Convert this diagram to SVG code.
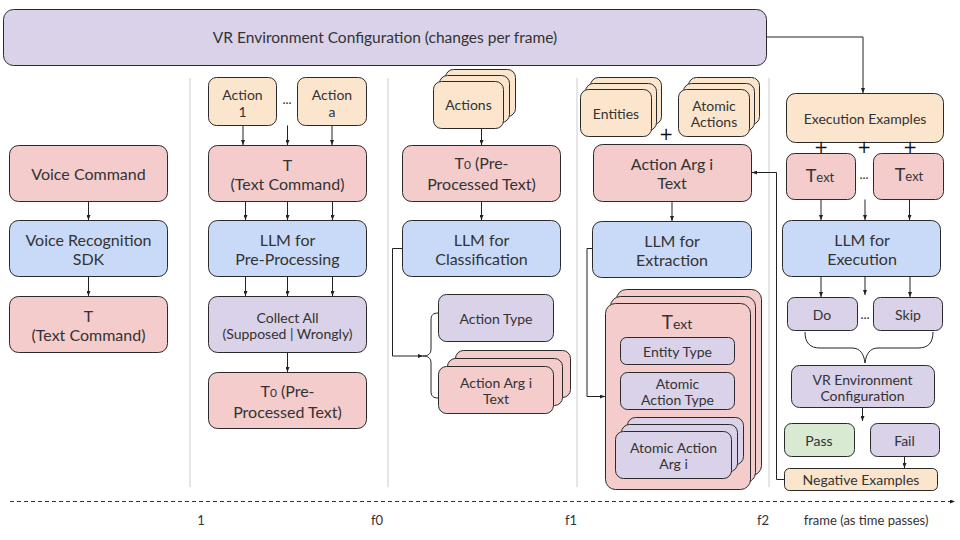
<svg xmlns="http://www.w3.org/2000/svg" width="960" height="540" viewBox="0 0 960 540">
<defs>
<marker id="ah" viewBox="0 0 10 8" refX="10" refY="4" markerWidth="5" markerHeight="4" orient="auto" markerUnits="userSpaceOnUse"><path d="M0,0 L10,4 L0,8 z" fill="#222"/></marker>
<style>
rect{stroke:#2a2a2a;stroke-width:1}
.pk{fill:#f4cccc}.bl{fill:#c9daf8}.pu{fill:#d9d2e9}.or{fill:#fce5cd}.gr{fill:#d9ead3}
text{font-family:Lato,"Open Sans","Liberation Sans",sans-serif;fill:#333;text-anchor:middle;dominant-baseline:central}
.t16{font-size:16px}.t14{font-size:14px}.t13{font-size:13px}
.ab{dominant-baseline:alphabetic}
.pl{font-family:"DejaVu Sans",sans-serif;font-size:17px;fill:#111}
.sep{stroke:#cccccc;stroke-width:1}
.c{stroke:#222;stroke-width:1;fill:none}
.ca{stroke:#222;stroke-width:1;fill:none;marker-end:url(#ah)}
</style>
</defs>
<g id="separators">
<line class="sep" x1="190" y1="78" x2="190" y2="487"/>
<line class="sep" x1="388" y1="78" x2="388" y2="487"/>
<line class="sep" x1="577" y1="78" x2="577" y2="487"/>
<line class="sep" x1="769" y1="78" x2="769" y2="487"/>
</g>
<g id="banner"><rect class="pu" x="3.5" y="9.5" width="763" height="56" rx="10"/><text x="385" y="37" style="font-size:15.5px">VR Environment Configuration (changes per frame)</text></g>

<g id="voice-command"><rect class="pk" x="9.5" y="145.5" width="158" height="56" rx="9"/><text class="t16" x="88.5" y="173">Voice Command</text></g>
<g id="voice-sdk"><rect class="bl" x="9.5" y="220.5" width="158" height="56" rx="9"/><text class="t16" x="88.5" y="239">Voice Recognition</text><text class="t16" x="88.5" y="258">SDK</text></g>
<g id="text-command-1"><rect class="pk" x="9.5" y="296.5" width="158" height="56" rx="9"/><text class="t16" x="88.5" y="315">T</text><text class="t16" x="88.5" y="334">(Text Command)</text></g>

<g id="action-1"><rect class="or" x="208.5" y="77.5" width="68" height="48" rx="8"/><text class="t14" x="242.5" y="94">Action</text><text class="t14" x="242.5" y="111">1</text></g>
<g id="action-dots-1"><text class="t13" x="287" y="99">...</text></g>
<g id="action-a"><rect class="or" x="297.5" y="77.5" width="69" height="48" rx="8"/><text class="t14" x="332" y="94">Action</text><text class="t14" x="332" y="111">a</text></g>
<g id="text-command-2"><rect class="pk" x="208.5" y="145.5" width="158" height="56" rx="9"/><text class="t16" x="287.5" y="164">T</text><text class="t16" x="287.5" y="183">(Text Command)</text></g>
<g id="llm-preprocessing"><rect class="bl" x="208.5" y="220.5" width="158" height="56" rx="9"/><text class="t16" x="287.5" y="239.5">LLM for</text><text class="t16" x="287.5" y="258.5">Pre-Processing</text></g>
<g id="collect-all"><rect class="pu" x="208.5" y="296.5" width="158" height="56" rx="9"/><text class="t14" x="287.5" y="317">Collect All</text><text class="t14" x="287.5" y="333">(Supposed | Wrongly)</text></g>
<g id="t0-2"><rect class="pk" x="208.5" y="372.5" width="158" height="56" rx="9"/><text class="t16 ab" x="287.5" y="397">T<tspan style="font-size:12px">0</tspan> (Pre-</text><text class="t16" x="287.5" y="411">Processed Text)</text></g>

<g id="actions-stack"><rect class="or" x="445.5" y="69.5" width="70" height="47" rx="8"/><rect class="or" x="439.5" y="75.5" width="70" height="47" rx="8"/><rect class="or" x="433.5" y="81.5" width="70" height="47" rx="8"/><text class="t14" x="468.5" y="104">Actions</text></g>
<g id="t0-3"><rect class="pk" x="402.5" y="145.5" width="158" height="56" rx="9"/><text class="t16 ab" x="481.5" y="169">T<tspan style="font-size:12px">0</tspan> (Pre-</text><text class="t16" x="481.5" y="183">Processed Text)</text></g>
<g id="llm-classification"><rect class="bl" x="402.5" y="220.5" width="158" height="56" rx="9"/><text class="t16" x="481.5" y="239.5">LLM for</text><text class="t16" x="481.5" y="258.5">Classification</text></g>
<g id="action-type"><rect class="pu" x="438.5" y="294.5" width="115" height="47" rx="8"/><text class="t14" x="496" y="318">Action Type</text></g>
<g id="action-arg-stack-3"><rect class="pk" x="455.5" y="350.5" width="115" height="47" rx="8"/><rect class="pk" x="447.5" y="358.5" width="115" height="47" rx="8"/><rect class="pk" x="438.5" y="366.5" width="115" height="47" rx="8"/><text class="t14" x="496" y="382">Action Arg i</text><text class="t14" x="496" y="398">Text</text></g>

<g id="entities-stack"><rect class="or" x="590.5" y="77.5" width="71" height="47" rx="8"/><rect class="or" x="585.5" y="83.5" width="71" height="47" rx="8"/><rect class="or" x="580.5" y="89.5" width="71" height="47" rx="8"/><text class="t14" x="616" y="113">Entities</text></g>
<g id="atomic-actions-stack"><rect class="or" x="688.5" y="77.5" width="71" height="47" rx="8"/><rect class="or" x="683.5" y="83.5" width="71" height="47" rx="8"/><rect class="or" x="678.5" y="89.5" width="71" height="47" rx="8"/><text class="t14" x="714" y="105">Atomic</text><text class="t14" x="714" y="121">Actions</text></g>
<g id="plus-4"><text class="pl" x="666" y="134">+</text></g>
<g id="action-arg-4"><rect class="pk" x="593.5" y="144.5" width="158" height="57" rx="9"/><text class="t16" x="672" y="163.5">Action Arg i</text><text class="t16" x="672" y="182.5">Text</text></g>
<g id="llm-extraction"><rect class="bl" x="592.5" y="221.5" width="159" height="56" rx="9"/><text class="t16" x="672" y="240">LLM for</text><text class="t16" x="672" y="259">Extraction</text></g>
<g id="text-stack"><rect class="pk" x="616.5" y="289.5" width="145" height="186" rx="10"/><rect class="pk" x="610.5" y="296.5" width="145" height="186" rx="10"/><rect class="pk" x="605.5" y="303.5" width="145" height="186" rx="10"/><text class="ab" x="677" y="329"><tspan style="font-size:19px">T</tspan><tspan style="font-size:14px">ext</tspan></text></g>
<g id="entity-type"><rect class="pu" x="620.5" y="337.5" width="114" height="27" rx="6"/><text class="t14" x="677.5" y="351">Entity Type</text></g>
<g id="atomic-action-type"><rect class="pu" x="620.5" y="372.5" width="114" height="37" rx="7"/><text class="t14" x="677.5" y="383">Atomic</text><text class="t14" x="677.5" y="399">Action Type</text></g>
<g id="atomic-arg-stack"><rect class="pu" x="627.5" y="417.5" width="116" height="47" rx="8"/><rect class="pu" x="621.5" y="424.5" width="116" height="47" rx="8"/><rect class="pu" x="615.5" y="431.5" width="116" height="47" rx="8"/><text class="t14" x="673.5" y="447">Atomic Action</text><text class="t14" x="673.5" y="463">Arg i</text></g>

<g id="execution-examples"><rect class="or" x="786.5" y="93.5" width="157" height="49" rx="9"/><text class="t14" x="865" y="118">Execution Examples</text></g>
<g id="plus-5"><text class="pl" x="821" y="147">+</text><text class="pl" x="864" y="147">+</text><text class="pl" x="910" y="147">+</text></g>
<g id="text-5a"><rect class="pk" x="786.5" y="153.5" width="69" height="46" rx="8"/><text class="ab" x="820" y="182"><tspan style="font-size:18px">T</tspan><tspan style="font-size:13px">ext</tspan></text></g>
<g id="text-dots-5"><text class="t13" x="864" y="174">...</text></g>
<g id="text-5b"><rect class="pk" x="873.5" y="153.5" width="70" height="46" rx="8"/><text class="ab" x="909" y="181"><tspan style="font-size:18px">T</tspan><tspan style="font-size:13px">ext</tspan></text></g>
<g id="llm-execution"><rect class="bl" x="782.5" y="220.5" width="158" height="56" rx="9"/><text class="t16" x="862" y="239.5">LLM for</text><text class="t16" x="862" y="258.5">Execution</text></g>
<g id="do"><rect class="pu" x="787.5" y="297.5" width="70" height="33" rx="7"/><text class="t14" x="822" y="314">Do</text></g>
<g id="do-dots"><text class="t13" x="865" y="314">...</text></g>
<g id="skip"><rect class="pu" x="873.5" y="297.5" width="69" height="33" rx="7"/><text class="t14" x="908" y="314">Skip</text></g>
<g id="vr-config"><rect class="pu" x="791.5" y="365.5" width="143" height="42" rx="8"/><text class="t14" x="862.5" y="379">VR Environment</text><text class="t14" x="862.5" y="395">Configuration</text></g>
<g id="pass"><rect class="gr" x="784.5" y="423.5" width="70" height="33" rx="7"/><text class="t14" x="819" y="440">Pass</text></g>
<g id="fail"><rect class="pu" x="870.5" y="423.5" width="69" height="33" rx="7"/><text class="t14" x="904.5" y="440">Fail</text></g>
<g id="negative-examples"><rect class="or" x="784.5" y="468.5" width="153" height="22" rx="5"/><text class="t14" x="861" y="479.5">Negative Examples</text></g>

<g id="connectors">
<path class="ca" d="M767,37 H863 V93"/>
<path class="ca" d="M88.5,201.5 V220"/>
<path class="ca" d="M88.5,276.5 V296"/>
<path class="ca" d="M243,125.5 V145"/>
<path class="ca" d="M287.5,125.5 V145"/>
<path class="ca" d="M332,125.5 V145"/>
<path class="ca" d="M245.5,201.5 V220"/>
<path class="ca" d="M287.5,201.5 V220"/>
<path class="ca" d="M332.5,201.5 V220"/>
<path class="ca" d="M245.5,276.5 V296"/>
<path class="ca" d="M287.5,276.5 V296"/>
<path class="ca" d="M332.5,276.5 V296"/>
<path class="ca" d="M287.5,352.5 V372"/>
<path class="ca" d="M481.5,128.5 V145"/>
<path class="ca" d="M481.5,201.5 V220"/>
<path class="ca" d="M402.5,248.5 H392.5 V356 H423"/>
<path class="c" d="M438.5,313 C433,313 431,315 431,320 V349 C431,354 428,356 423,356 C428,356 431,358 431,363 V391 C431,396 433,398 438.5,398"/>
<path class="ca" d="M672,201.5 V221"/>
<path class="ca" d="M592.5,248.5 H587 V396.5 H605"/>
<path class="ca" d="M784.5,479.5 H776.5 V172.5 H752"/>
<path class="ca" d="M821,199.5 V220"/>
<path class="ca" d="M865,199.5 V220"/>
<path class="ca" d="M909.5,199.5 V220"/>
<path class="ca" d="M821,276.5 V297"/>
<path class="ca" d="M865,276.5 V295"/>
<path class="ca" d="M910,276.5 V297"/>
<path class="c" d="M805,332 C805,343 810,348 820,348 H852 C860,348 864,354 865,363 C866,354 870,348 878,348 H918 C928,348 933,343 933,332"/>
<path class="ca" d="M862.5,407.5 V421"/>
<path class="ca" d="M904.5,456.5 V468"/>
</g>

<g id="timeline">
<line x1="10" y1="501.5" x2="955" y2="501.5" stroke="#333" stroke-width="1" stroke-dasharray="4 3" marker-end="url(#ah)"/>
<text class="t13" x="201" y="520">1</text>
<text class="t13" x="377" y="520">f0</text>
<text class="t13" x="571" y="520">f1</text>
<text class="t13" x="763" y="520">f2</text>
<text class="t13" x="866" y="520">frame (as time passes)</text>
</g>
</svg>
